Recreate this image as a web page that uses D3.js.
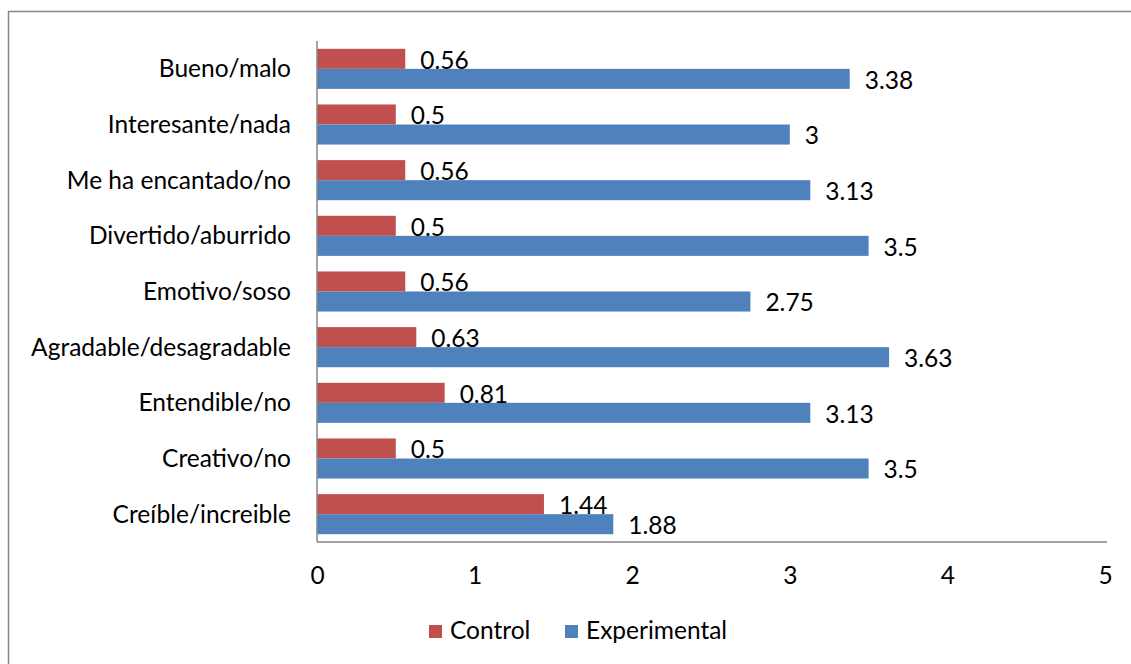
<!DOCTYPE html>
<html>
<head>
<meta charset="utf-8">
<script src="https://cdn.jsdelivr.net/npm/d3@7/dist/d3.min.js"></script>
<style>
  html, body { margin: 0; padding: 0; background: #fff; }
  svg { display: block; }
  text { font-family: Lato, "Open Sans", sans-serif; fill: #000; }
</style>
</head>
<body>
<svg id="chart" width="1131" height="664"></svg>
<script>
// Semantic-differential ratings, one pair of bars per item
const categories = [
  "Bueno/malo",
  "Interesante/nada ",
  "Me ha encantado/no",
  "Divertido/aburrido",
  "Emotivo/soso",
  "Agradable/desagradable",
  "Entendible/no",
  "Creativo/no",
  "Creíble/increible"
];
const controlValues      = [0.56, 0.5, 0.56, 0.5, 0.56, 0.63, 0.81, 0.5, 1.44];
const experimentalValues = [3.38, 3, 3.13, 3.5, 2.75, 3.63, 3.13, 3.5, 1.88];
const xTicks = [0, 1, 2, 3, 4, 5];
const seriesNames = ["Control", "Experimental"];
const seriesColors = ["#C0504D", "#4F81BD"];

const FONT = "Lato, 'Open Sans', sans-serif";
const FS = 24.5;

const svg = d3.select("#chart");

// outer chart frame (runs off the right and bottom edges)
svg.append("rect")
  .attr("x", 8.5).attr("y", 11.5)
  .attr("width", 1200).attr("height", 700)
  .attr("fill", "none").attr("stroke", "#868686").attr("stroke-width", 1.5);

const plot = { left: 317, right: 1105, top: 41, bottom: 542 };

const x = d3.scaleLinear().domain([0, 5]).range([plot.left, plot.right]);
const y = d3.scaleBand().domain(categories).range([plot.top, plot.bottom]).paddingInner(0.28).paddingOuter(0.14);
const sub = d3.scaleBand().domain(seriesNames).range([0, y.bandwidth()]);

const rows = categories.map((c, i) => ({
  cat: c,
  vals: [controlValues[i], experimentalValues[i]]
}));

const g = svg.append("g");

const groups = g.selectAll("g.row").data(rows).join("g")
  .attr("class", "row")
  .attr("transform", d => `translate(0,${y(d.cat)})`);

groups.selectAll("rect").data(d => d.vals.map((v, k) => ({ v, k })))
  .join("rect")
  .attr("x", x(0))
  .attr("y", d => sub(seriesNames[d.k]))
  .attr("width", d => x(d.v) - x(0))
  .attr("height", sub.bandwidth())
  .attr("fill", d => seriesColors[d.k]);

groups.selectAll("text.val").data(d => d.vals.map((v, k) => ({ v, k })))
  .join("text")
  .attr("class", "val")
  .attr("x", d => x(d.v) + 15)
  .attr("y", d => sub(seriesNames[d.k]) + sub.bandwidth() / 2 + 3.5)
  .attr("dominant-baseline", "middle")
  .attr("font-size", FS)
  .text(d => d3.format("~g")(d.v));

// category axis
const yAxis = g.append("g")
  .attr("transform", `translate(${plot.left},0)`)
  .call(d3.axisLeft(y).tickSize(0).tickPadding(26));
yAxis.select(".domain").attr("stroke", "#868686").attr("stroke-width", 1.5)
  .attr("d", `M0,${plot.top}V${plot.bottom}`);
yAxis.selectAll("text").attr("font-size", FS).attr("font-family", FONT)
  .attr("dy", "0.34em").attr("fill", "#000");

// value axis
const xAxis = g.append("g")
  .attr("transform", `translate(0,${plot.bottom})`)
  .call(d3.axisBottom(x).tickValues(xTicks).tickFormat(d3.format("d")).tickSize(0).tickPadding(25));
xAxis.select(".domain").attr("stroke", "#868686").attr("stroke-width", 1.5)
  .attr("d", `M${plot.left},0H${plot.right + 2}`);
xAxis.selectAll("text").attr("font-size", FS).attr("font-family", FONT).attr("fill", "#000");

// legend
const legend = svg.append("g").attr("transform", "translate(429,632)");
const legendOffsets = [0, 136];
seriesNames.forEach((name, k) => {
  const lg = legend.append("g").attr("transform", `translate(${legendOffsets[k]},0)`);
  lg.append("rect").attr("x", 0).attr("y", -7).attr("width", 13).attr("height", 13).attr("fill", seriesColors[k]);
  lg.append("text").attr("x", 21).attr("y", 1).attr("dominant-baseline", "middle")
    .attr("font-size", FS).text(name);
});
</script>
</body>
</html>
